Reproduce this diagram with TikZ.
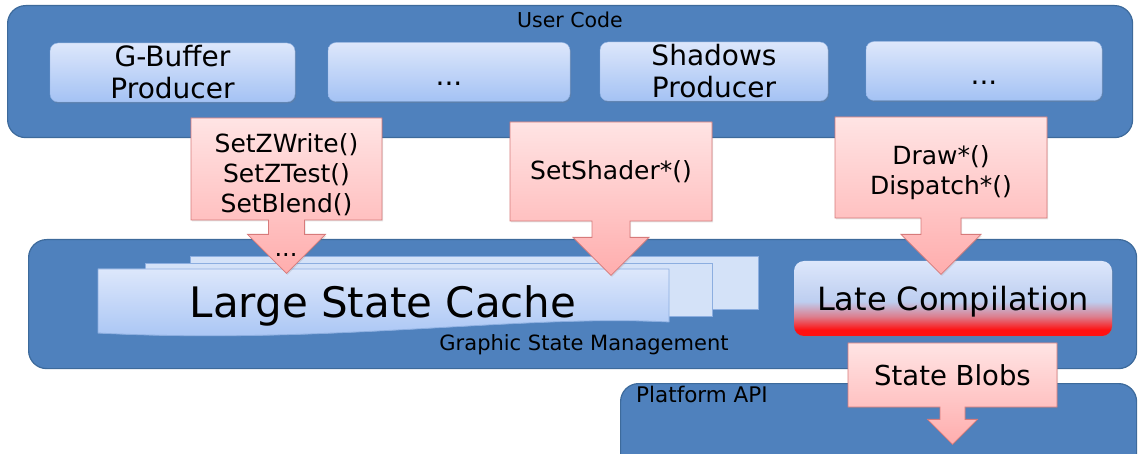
\documentclass[tikz,border=0pt]{standalone}
\usepackage{fontspec}
\setmainfont{DejaVu Sans}
\usetikzlibrary{shapes,arrows.meta,positioning,calc,shadows}
\definecolor{panelblue}{HTML}{4F81BD}
\definecolor{paneledge}{HTML}{3D6A9B}
\definecolor{boxtop}{HTML}{DDE7FB}
\definecolor{boxbot}{HTML}{A4C2F4}
\definecolor{boxedge}{HTML}{8CAEE0}
\definecolor{layerfill}{HTML}{D4E2F8}
\definecolor{pinktop}{HTML}{FFE4E4}
\definecolor{pinkbot}{HTML}{FFADAD}
\definecolor{pinkedge}{HTML}{D77A7A}
\definecolor{hotred}{HTML}{FF1010}
\definecolor{midpink}{HTML}{DC7E8E}
\definecolor{midblue}{HTML}{BDCEF0}
\pgfdeclareverticalshading{latecomp}{100bp}{color(0bp)=(hotred); color(29bp)=(hotred); color(38bp)=(midpink); color(48bp)=(midblue); color(75bp)=(boxtop); color(100bp)=(boxtop)}

\begin{document}
\begin{tikzpicture}[x=1pt, y=-1pt,
  panel/.style={draw=paneledge, line width=1.2pt, fill=panelblue, rounded corners=18pt, anchor=north west, inner sep=0pt},
  panellabel/.style={font=\fontsize{20.5}{24}\selectfont, inner sep=0pt, anchor=base},
  producer/.style={top color=boxtop, bottom color=boxbot, draw=boxedge, line width=0.4pt, rounded corners=8pt, minimum height=59pt, inner sep=0pt, font=\fontsize{28}{32}\selectfont, drop shadow={opacity=0.25, shadow xshift=1pt, shadow yshift=-1.5pt}},
  callout/.style={arrow box, draw=pinkedge, line width=0.8pt, top color=pinktop, bottom color=pinkbot, inner sep=0pt, align=center, font=\fontsize{25}{30}\selectfont, arrow box head indent=0pt, drop shadow={opacity=0.2, shadow xshift=1pt, shadow yshift=-1.5pt}},
  layer/.style={draw=boxedge, line width=0.8pt, fill=layerfill}
]
\useasboundingbox (0,0) rectangle (1138,454);
\clip (0,0) rectangle (1138,454);

% the three layers
\node[panel, minimum width=1125pt, minimum height=132pt] (usercode) at (7,5) {};
\node[panel, minimum width=1108pt, minimum height=129pt] (gsm) at (28,239) {};
\node[panel, minimum width=516pt, minimum height=100pt] (platform) at (620,383) {};
\node[panellabel] (usercodelabel) at (570,28) {User Code};
\node[panellabel, font=\fontsize{21}{24}\selectfont] (gsmlabel) at (584,350) {Graphic State Management};
\node[panellabel, anchor=base west, font=\fontsize{21.5}{24}\selectfont] (platformlabel) at (636,402) {Platform API};

% producers
\node[producer, align=center, minimum width=245pt] (gbuffer) at (172.5,72.5) {G-Buffer\\Producer};
\node[producer, minimum width=242pt, text height=28pt, text depth=0pt] (moreprod) at (449,72) {...};
\node[producer, align=center, minimum width=228pt] (shadows) at (714,71.5) {Shadows\\Producer};
\node[producer, minimum width=236pt, text height=28pt, text depth=0pt] (lastprod) at (984,71) {...};

% state cache stack
\draw[layer] (190,256) rectangle (758,309);
\draw[layer] (145,263) rectangle (712,316);
\draw[layer, top color=boxtop, bottom color=boxbot] (98,269) -- (669,269) -- (669,322)
  .. controls (520,314) and (330,345) .. (98,333) -- cycle;
\node[font=\fontsize{42}{50}\selectfont, anchor=base] (cache) at (383,318) {Large State Cache};

\node[shading=latecomp, rounded corners=10pt, minimum width=318pt, minimum height=75pt,
  text height=25pt, text depth=0pt,
  font=\fontsize{32}{36}\selectfont, drop shadow={opacity=0.25, shadow xshift=1pt, shadow yshift=-1.5pt}] (late) at (953,298.5) {Late Compilation};

% calls
\node[callout, minimum width=191pt, minimum height=102pt, arrow box shaft width=36pt, arrow box head extend=21pt, arrow box arrows={south:53pt}] (zstate) at (286.5,169) {\rule{0pt}{30pt}SetZWrite()\\SetZTest()\\SetBlend()};
\node[font=\fontsize{24}{29}\selectfont, anchor=base, inner sep=0pt] (moredots) at (286,257) {...};
\node[callout, minimum width=202pt, minimum height=99pt, arrow box shaft width=38pt, arrow box head extend=19pt, arrow box arrows={south:54pt}] (shader) at (611,171.5) {SetShader*()};
\node[callout, minimum width=212pt, minimum height=101pt, arrow box shaft width=40pt, arrow box head extend=20pt, arrow box arrows={south:56pt}] (drawcall) at (941,167.5) {\rule{0pt}{30pt}Draw*()\\Dispatch*()};
\node[callout, minimum width=209pt, minimum height=64pt, arrow box shaft width=25pt, arrow box head extend=12.5pt, arrow box arrows={south:37pt}, font=\fontsize{27.5}{32}\selectfont] (blobs) at (952.5,375) {State Blobs};
\end{tikzpicture}
\end{document}
